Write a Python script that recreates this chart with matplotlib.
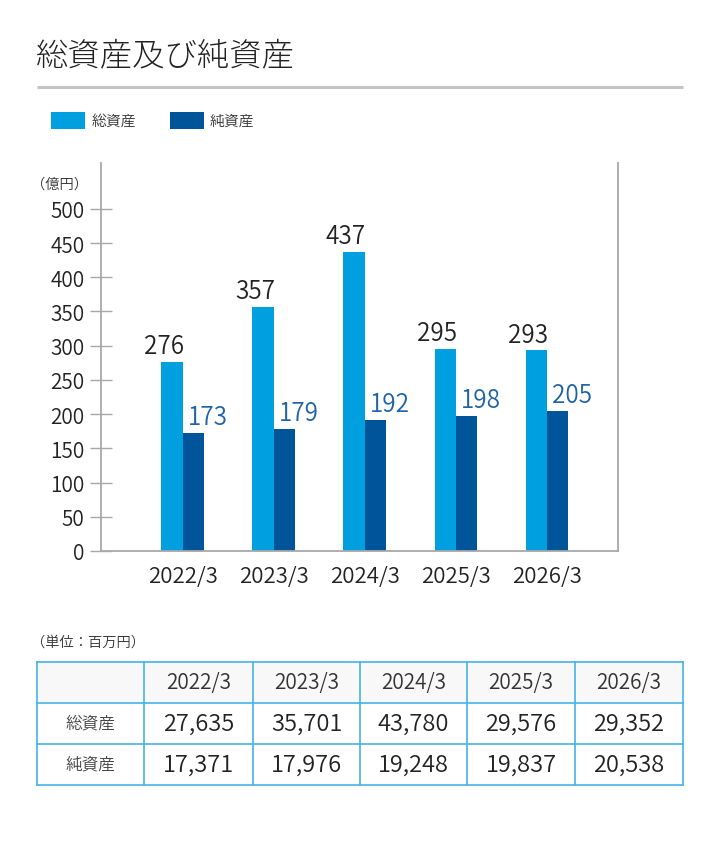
"""
総資産及び純資産 — grouped bars plus a small summary table underneath.
"""
import matplotlib
matplotlib.use("Agg")
import matplotlib.pyplot as plt
from matplotlib.patches import Rectangle
import numpy as np

plt.rcParams["font.family"] = ["Noto Sans CJK JP", "DejaVu Sans"]
plt.rcParams["font.weight"] = 350

# ── data ──────────────────────────────────────────────────────────────────────
years = ["2022/3", "2023/3", "2024/3", "2025/3", "2026/3"]
total_assets = [276, 357, 437, 295, 293]        # 億円
net_assets = [173, 179, 192, 198, 205]          # 億円
total_assets_m = [27635, 35701, 43780, 29576, 29352]   # 百万円
net_assets_m = [17371, 17976, 19248, 19837, 20538]     # 百万円
y_ticks = list(range(0, 501, 50))

LIGHT = "#009fe0"
DARK = "#00559a"
DARK_TXT = "#1f63a6"
TEXT = "#222222"
AXIS = "#a8a8a8"
BORDER = "#45b3e8"

W, H = 720, 845
fig = plt.figure(figsize=(W / 100, H / 100), dpi=100, facecolor="white")

# overlay in pixel coords for title, legend, table
ov = fig.add_axes([0, 0, 1, 1])
ov.set_xlim(0, W)
ov.set_ylim(H, 0)
ov.axis("off")

ov.text(36, 56, "総資産及び純資産", fontsize=23.3, color=TEXT, va="center",
        ha="left", fontweight="light")
ov.plot([37, 683], [88, 88], color="#c4c4c4", lw=2.2, solid_capstyle="butt")

# legend
ov.add_patch(Rectangle((51, 113), 34, 17, color=LIGHT, lw=0))
ov.text(92, 121.5, "総資産", fontsize=10.7, color="#333333", va="center")
ov.add_patch(Rectangle((170, 113), 34, 17, color=DARK, lw=0))
ov.text(210, 121.5, "純資産", fontsize=10.7, color="#333333", va="center")

ov.text(31, 185, "（億円）", fontsize=10.3, color="#333333", va="center")

# ── bars ──────────────────────────────────────────────────────────────────────
ax = fig.add_axes([101 / W, 1 - 552 / H, 517 / W, 388 / H])
x = np.arange(len(years))
bw = 0.236
b1 = ax.bar(x - bw / 2, total_assets, bw, color=LIGHT, zorder=2)
b2 = ax.bar(x + bw / 2, net_assets, bw, color=DARK, zorder=2)

for rect, v in zip(b1, total_assets):
    ax.annotate(str(v), (rect.get_x() + rect.get_width() / 2, v),
                xytext=(-6, 2), textcoords="offset points",
                ha="center", va="bottom", fontsize=17.5, color=TEXT)
for rect, v in zip(b2, net_assets):
    ax.annotate(str(v), (rect.get_x() + rect.get_width() / 2, v),
                xytext=(10, 2), textcoords="offset points",
                ha="center", va="bottom", fontsize=17.5, color=DARK_TXT)

ax.set_xlim(-0.9, 4.78)
ax.set_ylim(0, 567)
ax.set_yticks(y_ticks)
ax.set_xticks(x)
ax.set_xticklabels(years)
ax.tick_params(axis="y", direction="inout", length=16, width=1, color=AXIS,
               labelsize=15, labelcolor=TEXT, pad=4)
ax.tick_params(axis="x", length=0, labelsize=16, labelcolor=TEXT, pad=10)
ax.spines["top"].set_visible(False)
for s in ("left", "right", "bottom"):
    ax.spines[s].set_color(AXIS)
    ax.spines[s].set_linewidth(1.3)

# ── table ─────────────────────────────────────────────────────────────────────
ov.text(31, 643, "（単位：百万円）", fontsize=10.3, color="#333333", va="center")

col_x = [37, 144, 253, 360, 467, 575, 683]
row_y = [663, 704, 745, 786]
ov.add_patch(Rectangle((col_x[0], row_y[0]), col_x[-1] - col_x[0],
                       row_y[1] - row_y[0], color="#f8f8f8", lw=0))
for cx in col_x:
    ov.plot([cx, cx], [row_y[0], row_y[-1]], color=BORDER, lw=1.2)
for ry in row_y:
    ov.plot([col_x[0], col_x[-1]], [ry, ry], color=BORDER, lw=1.2)

def cell_center(ci, ri):
    return (col_x[ci] + col_x[ci + 1]) / 2, (row_y[ri] + row_y[ri + 1]) / 2

for i, yr in enumerate(years):
    cx, cy = cell_center(i + 1, 0)
    ov.text(cx, cy, yr, fontsize=15, color="#333333", ha="center", va="center")

rows = [("総資産", total_assets_m), ("純資産", net_assets_m)]
for r, (name, vals) in enumerate(rows):
    cx, cy = cell_center(0, r + 1)
    ov.text(cx, cy, name, fontsize=12, color="#444444", ha="center", va="center")
    for i, v in enumerate(vals):
        cx, cy = cell_center(i + 1, r + 1)
        ov.text(cx, cy, f"{v:,}", fontsize=17, color=TEXT, ha="center",
                va="center")

fig.savefig("out.png", dpi=100, facecolor="white")
